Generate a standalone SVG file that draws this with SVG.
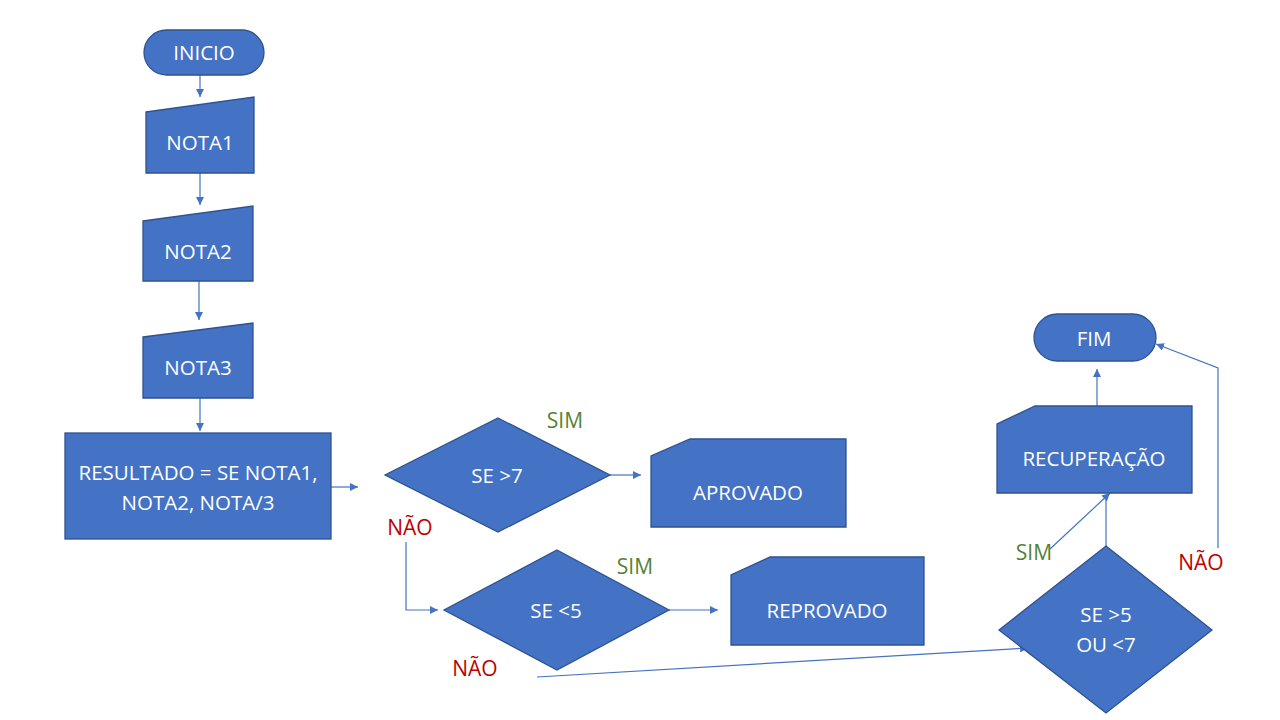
<svg xmlns="http://www.w3.org/2000/svg" width="1280" height="720" viewBox="0 0 1280 720">
<style>
.n{fill:#4472C4;stroke:#2F528F;stroke-width:1.3}
.t{fill:#FFFFFF;font-family:"Open Sans","Noto Sans",sans-serif;font-size:20.5px;text-anchor:middle;dominant-baseline:central}
.c{fill:none;stroke:#4472C4;stroke-width:1.2}
.sim{fill:#548235;font-family:"Open Sans","Noto Sans",sans-serif;font-size:21px;text-anchor:middle;dominant-baseline:central}
.nao{fill:#C00000;font-family:"Open Sans","Noto Sans",sans-serif;font-size:21px;text-anchor:middle;dominant-baseline:central}
</style>
<defs>
<marker id="a" markerWidth="8" markerHeight="8" refX="8" refY="4" orient="auto" markerUnits="userSpaceOnUse">
<path d="M0,0 L8,4 L0,8 Z" fill="#4472C4"/>
</marker>
</defs>
<rect width="1280" height="720" fill="#FFFFFF"/>
<g id="connectors">
<line class="c" x1="200" y1="75" x2="200" y2="97" marker-end="url(#a)"/>
<line class="c" x1="200" y1="173" x2="200" y2="205" marker-end="url(#a)"/>
<line class="c" x1="199" y1="281" x2="199" y2="320" marker-end="url(#a)"/>
<line class="c" x1="200" y1="398" x2="200" y2="431" marker-end="url(#a)"/>
<line class="c" x1="331" y1="487" x2="358" y2="487" marker-end="url(#a)"/>
<line class="c" x1="610" y1="475" x2="641" y2="475" marker-end="url(#a)"/>
<polyline class="c" points="406,542 406,610 438,610" marker-end="url(#a)"/>
<line class="c" x1="669" y1="610" x2="718" y2="610" marker-end="url(#a)"/>
<line class="c" x1="537" y1="677" x2="1028" y2="648" marker-end="url(#a)"/>
<line class="c" x1="1106" y1="546" x2="1106" y2="496"/>
<line class="c" x1="1050" y1="549" x2="1110" y2="493" marker-end="url(#a)"/>
<line class="c" x1="1097" y1="406" x2="1097" y2="369" marker-end="url(#a)"/>
<polyline class="c" points="1218,548 1218,368 1156,344" marker-end="url(#a)"/>
</g>
<g id="inicio">
<rect class="n" x="144" y="30" width="120" height="45" rx="22.5"/>
<text class="t" x="204" y="52">INICIO</text>
</g>
<g id="nota1">
<polygon class="n" points="146,112 254,97 254,173 146,173"/>
<text class="t" x="200" y="142">NOTA1</text>
</g>
<g id="nota2">
<polygon class="n" points="143,221 253,206 253,281 143,281"/>
<text class="t" x="198" y="251">NOTA2</text>
</g>
<g id="nota3">
<polygon class="n" points="143,337 253,323 253,398 143,398"/>
<text class="t" x="198" y="367">NOTA3</text>
</g>
<g id="resultado">
<rect class="n" x="65" y="433" width="266" height="106"/>
<text class="t" x="198" y="472">RESULTADO = SE NOTA1,</text>
<text class="t" x="198" y="502">NOTA2, NOTA/3</text>
</g>
<g id="se7">
<polygon class="n" points="498,418 610,475 498,532 385,475"/>
<text class="t" x="497" y="475">SE &gt;7</text>
</g>
<g id="aprovado">
<polygon class="n" points="690,439 846,439 846,527 651,527 651,456"/>
<text class="t" x="748" y="492">APROVADO</text>
</g>
<g id="se5">
<polygon class="n" points="557,550 669,610 557,670 444,610"/>
<text class="t" x="556" y="610">SE &lt;5</text>
</g>
<g id="reprovado">
<polygon class="n" points="770,557 924,557 924,645 731,645 731,575"/>
<text class="t" x="827" y="610">REPROVADO</text>
</g>
<g id="se5ou7">
<polygon class="n" points="1106,546 1212,630 1106,713 999,630"/>
<text class="t" x="1106" y="614">SE &gt;5</text>
<text class="t" x="1106" y="644">OU &lt;7</text>
</g>
<g id="recuperacao">
<polygon class="n" points="1035,406 1192,406 1192,493 997,493 997,424"/>
<text class="t" x="1094" y="458">RECUPERAÇÃO</text>
</g>
<g id="fim">
<rect class="n" x="1034" y="314" width="122" height="47" rx="23.5"/>
<text class="t" x="1094" y="338">FIM</text>
</g>
<g id="labels">
<text class="sim" x="565" y="420">SIM</text>
<text class="nao" x="410" y="527">NÃO</text>
<text class="sim" x="635" y="566">SIM</text>
<text class="nao" x="475" y="668">NÃO</text>
<text class="sim" x="1034" y="552">SIM</text>
<text class="nao" x="1201" y="562">NÃO</text>
</g>
</svg>
